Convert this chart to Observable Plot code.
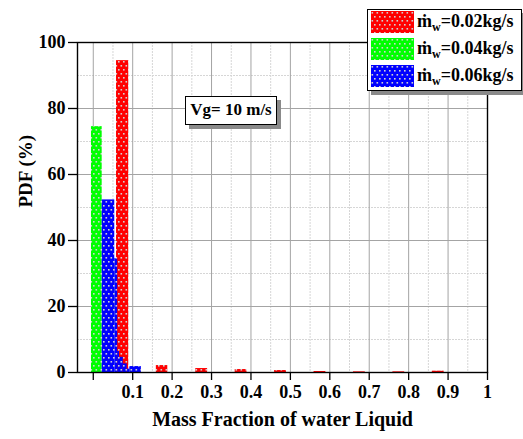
<!DOCTYPE html>
<html><head><meta charset="utf-8">
<script src="https://cdn.jsdelivr.net/npm/d3@7"></script>
<script src="https://cdn.jsdelivr.net/npm/@observablehq/plot@0.6"></script>
<style>
body{margin:0;background:#fff;}
#wrap{position:relative;width:523px;height:439px;font-family:"Liberation Serif","Times New Roman",serif;font-weight:bold;color:#000;}
#wrap svg.main{position:absolute;left:0;top:0;}
.box{position:absolute;background:#fff;border:1.5px solid #000;box-shadow:4px 4px 0 #8a8a8a;box-sizing:border-box;}
.lrow{position:absolute;left:0;height:22px;width:100%;}
.lrow svg{position:absolute;left:3px;top:0;}
.ltxt{position:absolute;left:49px;top:-1px;font-size:18px;line-height:22px;white-space:nowrap;}
.ltxt sub{font-size:12px;vertical-align:-4px;line-height:0;}
</style></head><body><div id="wrap"></div>
<script>
// ---- data ----
const xTicks = [0, 0.1, 0.2, 0.3, 0.4, 0.5, 0.6, 0.7, 0.8, 0.9, 1];
const xTickLabels = ["", "0.1", "0.2", "0.3", "0.4", "0.5", "0.6", "0.7", "0.8", "0.9", "1"];
const xMinorTicks = [0.05, 0.15, 0.25, 0.35, 0.45, 0.55, 0.65, 0.75, 0.85, 0.95];
const yTicks = [0, 20, 40, 60, 80, 100];
const yMinorTicks = [10, 30, 50, 70, 90];
const xTitle = "Mass Fraction of water Liquid";
const yTitle = "PDF (%)";
const note = "Vg= 10 m/s";
const seriesNames = ["0.02kg/s", "0.04kg/s", "0.06kg/s"];
const seriesColors = ["#ff0000", "#00ff00", "#0000ff"];

// m_w = 0.02 kg/s (red)
const redLeft  = [0.059, 0.160, 0.260, 0.360, 0.460, 0.560, 0.660, 0.760, 0.860];
const redRight = [0.090, 0.189, 0.290, 0.390, 0.490, 0.590, 0.690, 0.790, 0.890];
const redPDF   = [94.5, 2.1, 1.2, 0.9, 0.6, 0.3, 0.2, 0.2, 0.4];
// m_w = 0.04 kg/s (green)
const greenLeft  = [-0.0046];
const greenRight = [0.0226];
const greenPDF   = [74.5];
// m_w = 0.06 kg/s (blue)
const blueLeft  = [0.0226, 0.0545, 0.062, 0.0665, 0.076, 0.086, 0.0926];
const blueRight = [0.0545, 0.062, 0.0665, 0.076, 0.086, 0.0926, 0.122];
const bluePDF   = [52.3, 34.5, 6.4, 4.6, 2.6, 1.0, 1.8];

const bars = (L, R, V) => L.map((l, i) => ({x1: l, x2: R[i], v: V[i]}));
const FONT = '"Liberation Serif","Times New Roman",serif';

const svg = Plot.plot({
  width: 523, height: 439,
  marginLeft: 77, marginRight: 36, marginTop: 42, marginBottom: 67,
  x: {domain: [-0.04, 1.0]},
  y: {domain: [0, 100]},
  style: {fontFamily: FONT, fontWeight: "bold", fontSize: "18px", background: "transparent", color: "#000"},
  marks: [
    Plot.ruleX(xMinorTicks, {stroke: "#d6d6d6", strokeDasharray: "2,1"}),
    Plot.ruleY(yMinorTicks, {stroke: "#d6d6d6", strokeDasharray: "2,1"}),
    Plot.ruleX(xTicks, {stroke: "#a4a4a4"}),
    Plot.ruleY(yTicks, {stroke: "#a4a4a4"}),
    Plot.rect(bars(greenLeft, greenRight, greenPDF), {x1: "x1", x2: "x2", y1: 0, y2: "v", fill: "url(#pat1)"}),
    Plot.rect(bars(redLeft, redRight, redPDF), {x1: "x1", x2: "x2", y1: 0, y2: "v", fill: "url(#pat0)"}),
    Plot.rect(bars(blueLeft, blueRight, bluePDF), {x1: "x1", x2: "x2", y1: 0, y2: "v", fill: "url(#pat2)"}),
    Plot.axisX({ticks: xTicks, tickFormat: d => xTickLabels[xTicks.indexOf(d)], tickSize: 8, tickPadding: 5, fontSize: 18, strokeWidth: 1.3, label: null}),
    Plot.axisY({ticks: yTicks, tickSize: 9, tickPadding: 3, fontSize: 18, strokeWidth: 1.3, label: null}),
    Plot.frame({stroke: "#000", strokeWidth: 1.4}),
    Plot.text([xTitle], {frameAnchor: "bottom", dy: 53, fontSize: 20, fontWeight: "bold"}),
    Plot.text([yTitle], {frameAnchor: "left", dx: -52, rotate: -90, fontSize: 19, fontWeight: "bold"})
  ]
});
svg.classList.add("main");

// dotted fill patterns
const defs = d3.select(svg).insert("defs", ":first-child");
seriesColors.forEach((c, i) => {
  const p = defs.append("pattern").attr("id", "pat" + i).attr("patternUnits", "userSpaceOnUse")
    .attr("width", 5).attr("height", 8);
  p.append("rect").attr("width", 5).attr("height", 8).attr("fill", c);
  p.append("rect").attr("x", 0.5).attr("y", 1).attr("width", 1.6).attr("height", 1.6).attr("fill", "#d0d0d0");
  p.append("rect").attr("x", 3).attr("y", 5).attr("width", 1.6).attr("height", 1.6).attr("fill", "#d0d0d0");
});

const wrap = document.getElementById("wrap");
wrap.appendChild(svg);

// annotation box
const nb = document.createElement("div");
nb.className = "box";
nb.style.cssText = "left:185px;top:96px;width:92px;height:29px;font-size:17px;line-height:26px;text-align:center;";
nb.textContent = note;
wrap.appendChild(nb);

// legend
const lg = document.createElement("div");
lg.className = "box";
lg.style.cssText = "left:367px;top:9px;width:155px;height:82px;";
seriesNames.forEach((name, i) => {
  const row = document.createElement("div");
  row.className = "lrow";
  row.style.top = (1 + i * 27) + "px";
  row.innerHTML = `<svg width="43" height="22"><rect width="43" height="22" fill="url(#pat${i})"/></svg>` +
    `<div class="ltxt">ṁ<sub>w</sub>=${name}</div>`;
  lg.appendChild(row);
});
wrap.appendChild(lg);
</script>
</body></html>
